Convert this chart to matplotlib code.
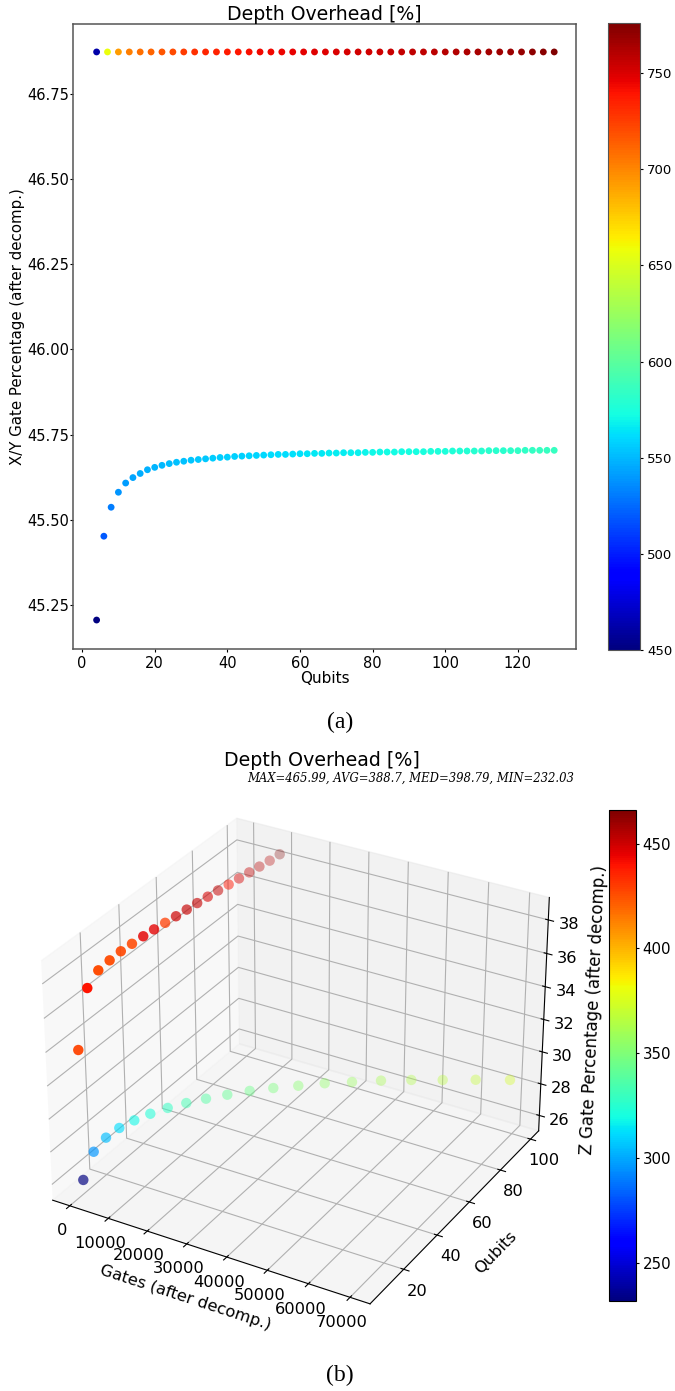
from matplotlib import pyplot as plt

qubits_top = [4, 7, 10, 13, 16, 19, 22, 25, 28, 31, 34, 37, 40, 43, 46, 49, 52, 55, 58, 61, 64, 67,
              70, 73, 76, 79, 82, 85, 88, 91, 94, 97, 100, 103, 106, 109, 112, 115, 118, 121, 124,
              127, 130]
top_pct = [46.873] * 43
top_depth = [462, 657, 692, 703, 708, 712, 717, 721, 726, 730, 733, 735, 737, 739, 741, 743, 744,
             745, 746, 747, 748, 749, 750, 751, 752, 753, 754, 755, 756, 757, 758, 759, 760, 761,
             763, 764, 765, 766, 768, 769, 771, 773, 775]
qubits_low = [4, 6, 8, 10, 12, 14, 16, 18, 20, 22, 24, 26, 28, 30, 32, 34, 36, 38, 40, 42, 44, 46,
              48, 50, 52, 54, 56, 58, 60, 62, 64, 66, 68, 70, 72, 74, 76, 78, 80, 82, 84, 86, 88,
              90, 92, 94, 96, 98, 100, 102, 104, 106, 108, 110, 112, 114, 116, 118, 120, 122,
              124, 126, 128, 130]
low_pct = [45.206, 45.452, 45.537, 45.581, 45.608, 45.624, 45.636, 45.647, 45.654, 45.660, 45.665,
           45.669, 45.672, 45.675, 45.677, 45.679, 45.681, 45.683, 45.684, 45.686, 45.687, 45.688,
           45.689, 45.690, 45.691, 45.692, 45.692, 45.693, 45.694, 45.694, 45.695, 45.695, 45.696,
           45.696, 45.697, 45.697, 45.697, 45.698, 45.698, 45.699, 45.699, 45.699, 45.700, 45.700,
           45.700, 45.700, 45.701, 45.701, 45.701, 45.702, 45.702, 45.702, 45.702, 45.702, 45.703,
           45.703, 45.703, 45.703, 45.703, 45.704, 45.704, 45.704, 45.704, 45.704]
low_depth = [450, 519, 531, 538, 541, 544, 546, 548, 549, 550, 551, 552, 553, 554, 555, 555, 556,
             556, 557, 557, 558, 559, 559, 560, 561, 561, 562, 563, 563, 564, 565, 565, 566, 566,
             567, 568, 568, 569, 570, 570, 571, 571, 572, 573, 573, 574, 575, 575, 576, 577, 577,
             578, 579, 579, 580, 581, 581, 582, 583, 583, 584, 585, 585, 586]

qubits_b = [4, 9, 14, 19, 24, 29, 34, 39, 44, 49, 54, 59, 64, 69, 74, 79, 84, 89, 94, 99]
gates_up = [2141, 2486, 2881, 3300, 3700, 4100, 4550, 4900, 5350, 5750, 6150, 6500, 6900, 7250,
            7700, 8100, 8500, 8900, 9350, 9750]
z_up = [34.29, 37.49, 38.11, 38.29, 38.42, 38.46, 38.51, 38.52, 38.52, 38.52, 38.53, 38.53, 38.53,
        38.52, 38.50, 38.49, 38.48, 38.46, 38.45, 38.47]
depth_up = [428, 440, 426, 426, 427, 427, 445, 445, 430, 450, 452, 452, 448, 452, 440, 448, 452,
            455, 455, 466]
gates_low = [2022, 2457, 3251, 4284, 5769, 7532, 9680, 12164, 14956, 18190, 21731, 25604, 29859,
             34492, 39373, 44703, 50376, 56338, 62705, 69401]
z_low = [26.43, 27.71, 28.15, 28.34, 28.44, 28.50, 28.54, 28.55, 28.55, 28.56, 28.58, 28.57, 28.55,
         28.57, 28.53, 28.53, 28.51, 28.47, 28.47, 28.47]
depth_low = [232, 296, 305, 312, 318, 323, 328, 333, 338, 342, 345, 349, 352, 355, 358, 361, 364,
             367, 370, 374]

W, H = 675, 1391
def rect(x0, y0, x1, y1):
    return [x0 / W, 1 - y1 / H, (x1 - x0) / W, (y1 - y0) / H]

fig = plt.figure(figsize=(6.75, 13.91), dpi=100)

# (a)
ax = fig.add_axes(rect(73, 24, 576, 649))
sc = ax.scatter(qubits_top + qubits_low, top_pct + low_pct, c=top_depth + low_depth, cmap='jet',
                vmin=450, vmax=776, s=24, linewidths=0)
ax.set_xlim(-2.5, 136)
ax.set_ylim(45.121, 46.955)
ax.set_title("Depth Overhead [%]", fontsize=13.6, pad=3)
ax.set_xlabel("Qubits", fontsize=11, labelpad=0)
ax.set_ylabel("X/Y Gate Percentage (after decomp.)", fontsize=10.8, labelpad=1.5, y=0.516)
ax.tick_params(axis='x', labelsize=10.5, length=2, pad=3)
ax.tick_params(axis='y', labelsize=10.5, length=2, pad=1)
for s in ax.spines.values():
    s.set_color('#555555')
    s.set_linewidth(1.1)
cax = fig.add_axes(rect(607.5, 23, 640, 650))
cb = fig.colorbar(sc, cax=cax)
cb.ax.tick_params(labelsize=9.5, length=2, pad=3)
cb.outline.set_edgecolor('#555555')
fig.text(340 / W, 1 - 722 / H, "(a)", family='Liberation Serif', fontsize=17, ha='center', va='center')

# (b)
ax3 = fig.add_axes(rect(8.5, 774.5, 576.5, 1339.5), projection='3d')
sc3 = ax3.scatter(gates_up + gates_low, qubits_b + qubits_b, z_up + z_low, c=depth_up + depth_low,
                  cmap='jet', vmin=232.03, vmax=465.99, s=56, linewidths=0)
ax3.set_xlim(-4500, 74750)
ax3.set_ylim(0.5, 105.5)
ax3.set_zlim(25.02, 39.32)
ax3.set_yticks([20, 40, 60, 80, 100])
ax3.set_xlabel("Gates (after decomp.)", fontsize=11.7, labelpad=3)
ax3.set_ylabel("Qubits", fontsize=11.7, labelpad=4)
ax3.set_zlabel("Z Gate Percentage (after decomp.)", fontsize=12, labelpad=1)
ax3.tick_params(labelsize=11.7, pad=1)
fig.text(322 / W, 1 - 760 / H, "Depth Overhead [%]", fontsize=13.7, ha='center', va='center')
fig.text(411 / W, 1 - 778 / H, "MAX=465.99, AVG=388.7, MED=398.79, MIN=232.03",
         family='DejaVu Serif', style='italic', fontsize=8.33, ha='center', va='center')
cax3 = fig.add_axes(rect(609, 810, 635.5, 1301))
cb3 = fig.colorbar(sc3, cax=cax3)
cb3.ax.tick_params(labelsize=10.8, length=2, pad=3)
fig.text(340 / W, 1 - 1375 / H, "(b)", family='Liberation Serif', fontsize=17, ha='center', va='center')

fig.savefig('out.png', dpi=100)
